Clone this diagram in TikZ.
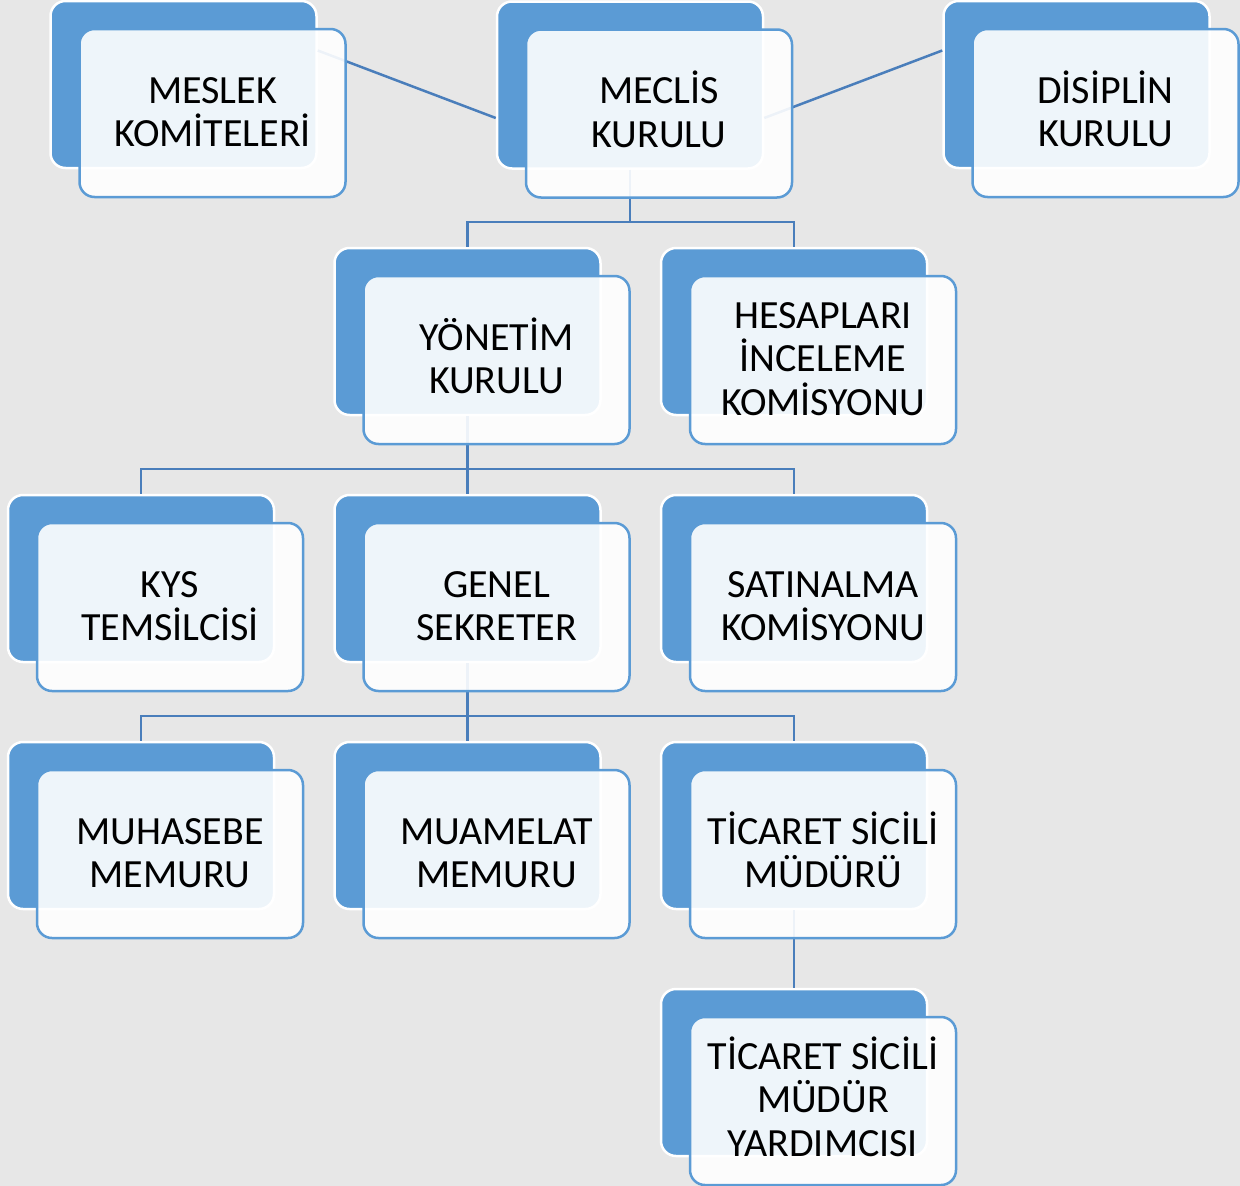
\documentclass[tikz,border=0pt]{standalone}
\usepackage{fontspec}
\setmainfont{Carlito}
\usetikzlibrary{calc}
\definecolor{bg}{HTML}{E7E7E7}
\definecolor{boxblue}{HTML}{5B9BD5}
\definecolor{linkblue}{HTML}{4A7EBB}
\newcommand\TopStrut{\rule{0pt}{38pt}}
\newcommand\BotStrut{\rule[-14.4pt]{0pt}{14.4pt}}
\tikzset{
  backbox/.style={draw=white, fill=boxblue, line width=2.5pt, rounded corners=15pt,
    minimum width=266pt, minimum height=167pt, inner sep=0pt},
  frontbox/.style={draw=boxblue, fill=white, fill opacity=0.9, text opacity=1,
    line width=2.5pt, rounded corners=15pt, minimum width=266pt, minimum height=168pt,
    inner sep=0pt, align=center, font=\fontsize{40}{43.5}\selectfont},
  link/.style={draw=linkblue, line width=2.5pt}
}
\begin{document}
\begin{tikzpicture}[x=1pt,y=-1pt]
\fill[bg] (0,0) rectangle (1240,1186);
\useasboundingbox (0,0) rectangle (1240,1186);
% back boxes
\node[backbox] (bMes) at (183.5,84.5) {};
\node[backbox] (bMec) at (630,85) {};
\node[backbox] (bDis) at (1076.5,84.5) {};
\node[backbox] (bYon) at (467.5,331.5) {};
\node[backbox] (bHes) at (794,331.5) {};
\node[backbox] (bKys) at (141,578.5) {};
\node[backbox] (bGen) at (467.5,578.5) {};
\node[backbox] (bSat) at (794,578.5) {};
\node[backbox] (bMuh) at (141,825.5) {};
\node[backbox] (bMua) at (467.5,825.5) {};
\node[backbox] (bTic) at (794,825.5) {};
\node[backbox] (bTyr) at (794,1072.5) {};
% connectors
\coordinate (j1) at (630,222);
\coordinate (j2) at (467.5,469);
\coordinate (j3) at (467.5,716);
\draw[link] ([yshift=34pt]bMes.east) -- ([yshift=-33pt]bMec.west);
\draw[link] ([yshift=-33pt]bMec.east) -- ([yshift=34pt]bDis.west);
\draw[link] (bMec.south) -- (j1);
\draw[link] (bYon.north) |- (j1) -| (bHes.north);
\draw[link] (bYon.south) -- (j2);
\draw[link] (bKys.north) |- (j2) -| (bSat.north);
\draw[link] (j2) -- (bGen.north);
\draw[link] (bGen.south) -- (j3);
\draw[link] (bMuh.north) |- (j3) -| (bTic.north);
\draw[link] (j3) -- (bMua.north);
\draw[link] (bTic.south) -- (bTyr.north);
% front boxes
\node[frontbox] (fMes) at ($(bMes)+(29,28.5)$) {\TopStrut MESLEK\\KOMİTELERİ\BotStrut};
\node[frontbox] (fMec) at ($(bMec)+(29,28.5)$) {\TopStrut MECLİS\\KURULU\BotStrut};
\node[frontbox] (fDis) at ($(bDis)+(29,28.5)$) {\TopStrut DİSİPLİN\\KURULU\BotStrut};
\node[frontbox] (fYon) at ($(bYon)+(29,28.5)$) {\TopStrut YÖNETİM\\KURULU\BotStrut};
\node[frontbox] (fHes) at ($(bHes)+(29,28.5)$) {\TopStrut HESAPLARI\\İNCELEME\\KOMİSYONU\BotStrut};
\node[frontbox] (fKys) at ($(bKys)+(29,28.5)$) {\TopStrut KYS\\TEMSİLCİSİ\BotStrut};
\node[frontbox] (fGen) at ($(bGen)+(29,28.5)$) {\TopStrut GENEL\\SEKRETER\BotStrut};
\node[frontbox] (fSat) at ($(bSat)+(29,28.5)$) {\TopStrut SATINALMA\\KOMİSYONU\BotStrut};
\node[frontbox] (fMuh) at ($(bMuh)+(29,28.5)$) {\TopStrut MUHASEBE\\MEMURU\BotStrut};
\node[frontbox] (fMua) at ($(bMua)+(29,28.5)$) {\TopStrut MUAMELAT\\MEMURU\BotStrut};
\node[frontbox] (fTic) at ($(bTic)+(29,28.5)$) {\TopStrut TİCARET SİCİLİ\\MÜDÜRÜ\BotStrut};
\node[frontbox] (fTyr) at ($(bTyr)+(29,28.5)$) {\TopStrut TİCARET SİCİLİ\\MÜDÜR\\YARDIMCISI\BotStrut};
\end{tikzpicture}
\end{document}
